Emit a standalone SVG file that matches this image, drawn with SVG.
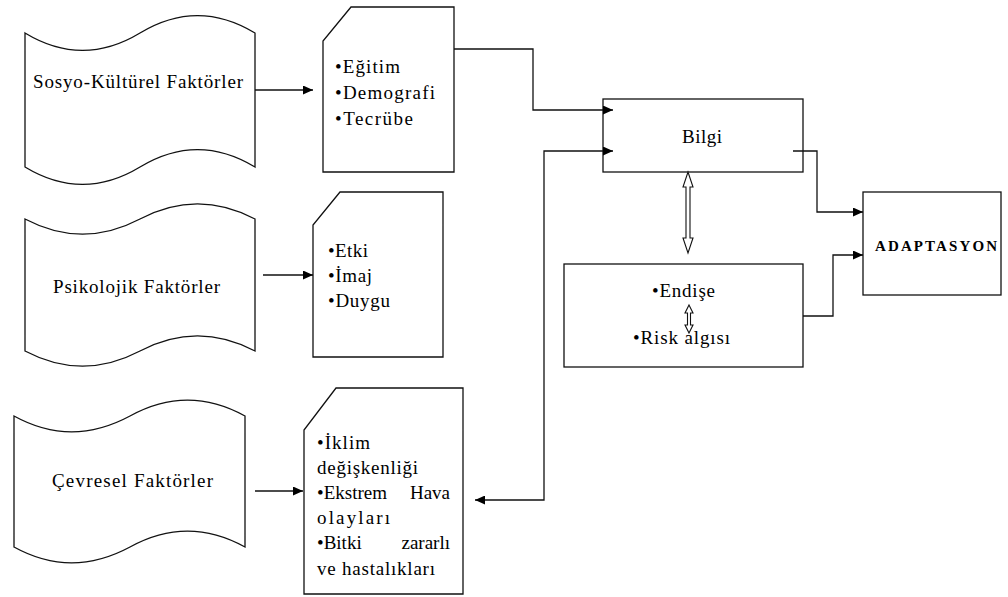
<svg xmlns="http://www.w3.org/2000/svg" width="1008" height="597" viewBox="0 0 1008 597">
<defs>
<style>
.shape{fill:#fff;stroke:#111;stroke-width:1.3}
.conn{fill:none;stroke:#111;stroke-width:1.3}
.hollow{fill:#fff;stroke:#111;stroke-width:1.1}
.t{font-family:'Liberation Serif','Times New Roman','DejaVu Serif',serif;font-size:19px;fill:#000}
.bold{font-weight:bold;font-size:15px}
</style>
<marker id="ah" viewBox="0 0 10 9" refX="10" refY="4.5" markerWidth="10" markerHeight="9" markerUnits="userSpaceOnUse" orient="auto-start-reverse">
<path d="M0,0 L10,4.5 L0,9 Z" fill="#000"/>
</marker>
</defs>
<rect width="1008" height="597" fill="#fff"/>

<g id="sosyo">
<path class="shape" d="M25,33 C63,56 102,56 140,33 C178,10 217,10 255,33 L255,167 C217,144 178,144 140,167 C102,190 63,190 25,167 Z"/>
<text class="t" x="33" y="88" textLength="210" lengthAdjust="spacing">Sosyo-Kültürel Faktörler</text>
</g>
<g id="psikolojik">
<path class="shape" d="M25,219 C63,239 102,239 140,219 C178,199 217,199 255,219 L255,351 C217,331 178,331 140,351 C102,371 63,371 25,351 Z"/>
<text class="t" x="53" y="293" textLength="167" lengthAdjust="spacing">Psikolojik Faktörler</text>
</g>
<g id="cevresel">
<path class="shape" d="M14,416 C52,437 91,437 130,416 C168,395 207,395 245,416 L245,547 C207,526 168,526 130,547 C91,568 52,568 14,547 Z"/>
<text class="t" x="52" y="487" textLength="161" lengthAdjust="spacing">Çevresel Faktörler</text>
</g>

<g id="doc1">
<path class="shape" d="M351,7 L454,7 L454,172 L323,172 L323,41 Z"/>
<text class="t" x="335" y="73" textLength="65" lengthAdjust="spacing">•Eğitim</text>
<text class="t" x="335" y="99" textLength="100" lengthAdjust="spacing">•Demografi</text>
<text class="t" x="335" y="125" textLength="78" lengthAdjust="spacing">•Tecrübe</text>
</g>
<g id="doc2">
<path class="shape" d="M340,192 L443,192 L443,357 L313,357 L313,225 Z"/>
<text class="t" x="328" y="257" textLength="40" lengthAdjust="spacing">•Etki</text>
<text class="t" x="328" y="282" textLength="44" lengthAdjust="spacing">•İmaj</text>
<text class="t" x="328" y="307" textLength="62" lengthAdjust="spacing">•Duygu</text>
</g>
<g id="doc3">
<path class="shape" d="M336,388 L463,388 L463,594 L304,594 L304,430 Z"/>
<text class="t" x="317" y="449" textLength="53" lengthAdjust="spacing">•İklim</text>
<text class="t" x="317" y="474" textLength="101" lengthAdjust="spacing">değişkenliği</text>
<text class="t" y="499"><tspan x="317">•Ekstrem</tspan><tspan x="450" text-anchor="end">Hava</tspan></text>
<text class="t" x="317" y="524" textLength="73" lengthAdjust="spacing">olayları</text>
<text class="t" y="549"><tspan x="317">•Bitki</tspan><tspan x="450" text-anchor="end">zararlı</tspan></text>
<text class="t" x="317" y="575" textLength="118" lengthAdjust="spacing">ve hastalıkları</text>
</g>

<g id="bilgi">
<rect class="shape" x="603" y="99" width="200" height="73"/>
<text class="t" x="682" y="143" textLength="40" lengthAdjust="spacing">Bilgi</text>
</g>
<g id="endise">
<rect class="shape" x="564" y="264" width="239" height="103"/>
<text class="t" x="652" y="297" textLength="63" lengthAdjust="spacing">•Endişe</text>
<text class="t" x="633" y="344" textLength="97" lengthAdjust="spacing">•Risk algısı</text>
<polygon class="hollow" points="689,305 693,313 690.5,313 690.5,325 693,325 689,333 685,325 687.5,325 687.5,313 685,313"/>
</g>
<g id="adaptasyon">
<rect class="shape" x="863" y="192" width="138" height="103"/>
<text class="t bold" x="875" y="251" textLength="122" lengthAdjust="spacing">ADAPTASYON</text>
</g>

<g id="connectors">
<path class="conn" d="M255,90 L313,90" marker-end="url(#ah)"/>
<path class="conn" d="M263,275 L313,275" marker-end="url(#ah)"/>
<path class="conn" d="M255,491 L303,491" marker-end="url(#ah)"/>
<path class="conn" d="M454,49 L533,49 L533,110 L613,110" marker-end="url(#ah)"/>
<path class="conn" d="M475,500 L544,500 L544,151 L613,151" marker-start="url(#ah)" marker-end="url(#ah)"/>
<path class="conn" d="M793,151 L817,151 L817,212 L863,212" marker-end="url(#ah)"/>
<path class="conn" d="M803,316 L833,316 L833,255 L863,255" marker-end="url(#ah)"/>
<polygon class="hollow" points="688,172 693,187 690,187 690,238 693,238 688,253 683,238 686,238 686,187 683,187"/>
</g>
</svg>
